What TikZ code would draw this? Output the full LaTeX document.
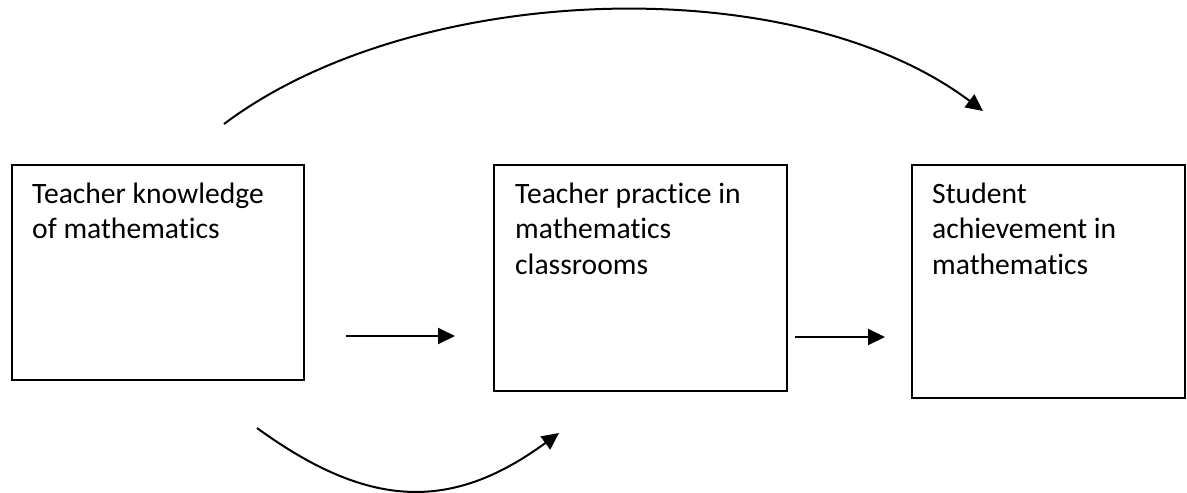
\documentclass[tikz,border=0pt]{standalone}
\usepackage{fontspec}
\setmainfont{Carlito}[Ligatures=NoCommon,RawFeature=-liga]
\usetikzlibrary{arrows.meta,calc}
\begin{document}
\begin{tikzpicture}[x=1pt,y=-1pt,
 box/.style={draw,line width=1.6pt,inner sep=0pt,outer sep=0pt,anchor=north west},
 lbl/.style={font=\fontsize{29.6}{35.5}\selectfont,align=left,inner sep=0pt,anchor=north west},
 conn/.style={line width=2pt,-{Triangle[length=17pt,width=16pt]}}]
\useasboundingbox (0,0) rectangle (1187,493);
\node[box,minimum width=292pt,minimum height=215pt] (b1) at (12,165) {};
\node[box,minimum width=293pt,minimum height=226pt] (b2) at (494,165) {};
\node[box,minimum width=273pt,minimum height=233pt] (b3) at (912,165) {};
\node[lbl] (t1) at ($(b1.north west)+(20,13.15)$) {\strut Teacher knowledge\\of mathematics};
\node[lbl] (t2) at ($(b2.north west)+(21,13.15)$) {\strut Teacher practice in\\mathematics\\classrooms};
\node[lbl] (t3) at ($(b3.north west)+(20,13.15)$) {\strut Student\\achievement in\\mathematics};
\coordinate (p1) at (346,336);
\coordinate (q1) at (455,336);
\coordinate (p2) at (795,337);
\coordinate (q2) at (885,337);
\coordinate (p3) at (224,124);
\coordinate (q3) at (983,111);
\coordinate (p4) at (257,428);
\coordinate (q4) at (559,433);
\draw[conn] (p1) -- (q1);
\draw[conn] (p2) -- (q2);
\draw[conn] (p3) .. controls (414,-19) and (793,-32) .. (q3);
\draw[conn] (p4) .. controls (367,508) and (450,513) .. (q4);
\end{tikzpicture}
\end{document}
